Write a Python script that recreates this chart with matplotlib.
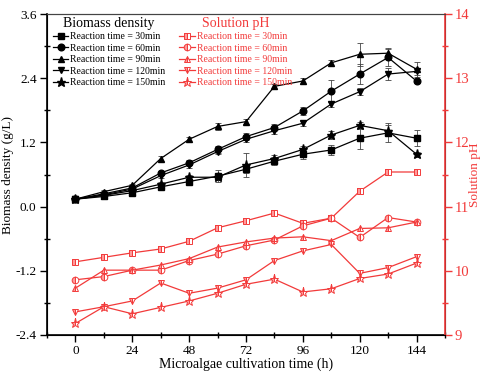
import matplotlib
matplotlib.use("Agg")
import matplotlib.pyplot as plt
from matplotlib.ticker import MultipleLocator

plt.rcParams['font.family'] = ['Liberation Serif', 'DejaVu Serif']

# cultivation time (h)
hours = [0, 12, 24, 36, 48, 60, 72, 84, 96, 108, 120, 132, 144]
labels = ['Reaction time = 30min', 'Reaction time = 60min', 'Reaction time = 90min',
          'Reaction time = 120min', 'Reaction time = 150min']

# biomass density (g/L)
bio_30 = [0.14, 0.19, 0.26, 0.37, 0.47, 0.57, 0.70, 0.85, 0.98, 1.06, 1.28, 1.38, 1.28]
bio_60 = [0.14, 0.24, 0.35, 0.63, 0.82, 1.07, 1.31, 1.48, 1.79, 2.16, 2.48, 2.79, 2.35]
bio_90 = [0.14, 0.28, 0.40, 0.90, 1.26, 1.50, 1.59, 2.25, 2.35, 2.69, 2.85, 2.87, 2.57]
bio_120 = [0.14, 0.22, 0.33, 0.58, 0.78, 1.03, 1.26, 1.42, 1.56, 1.92, 2.15, 2.48, 2.53]
bio_150 = [0.14, 0.21, 0.30, 0.42, 0.55, 0.55, 0.78, 0.90, 1.07, 1.34, 1.52, 1.42, 0.98]

err_30 = [0.03, 0.03, 0.03, 0.03, 0.05, 0.11, 0.08, 0.08, 0.08, 0.10, 0.20, 0.18, 0.15]
err_60 = [0.03, 0.03, 0.03, 0.04, 0.05, 0.06, 0.06, 0.07, 0.08, 0.21, 0.18, 0.16, 0.04]
err_90 = [0.03, 0.03, 0.03, 0.04, 0.05, 0.06, 0.05, 0.05, 0.05, 0.06, 0.22, 0.10, 0.14]
err_120 = [0.03, 0.03, 0.03, 0.04, 0.05, 0.05, 0.05, 0.06, 0.05, 0.06, 0.06, 0.12, 0.06]
err_150 = [0.03, 0.03, 0.03, 0.04, 0.05, 0.05, 0.23, 0.06, 0.06, 0.08, 0.07, 0.10, 0.05]

# solution pH
ph_30 = [10.14, 10.21, 10.28, 10.34, 10.46, 10.67, 10.78, 10.90, 10.74, 10.82, 11.24, 11.54, 11.54]
ph_60 = [9.86, 9.91, 10.01, 10.01, 10.16, 10.26, 10.39, 10.48, 10.70, 10.82, 10.52, 10.83, 10.76]
ph_90 = [9.73, 10.01, 10.01, 10.09, 10.19, 10.37, 10.45, 10.51, 10.53, 10.47, 10.66, 10.67, 10.76]
ph_120 = [9.36, 9.44, 9.53, 9.81, 9.65, 9.73, 9.86, 10.16, 10.31, 10.41, 9.96, 10.05, 10.22]
ph_150 = [9.18, 9.44, 9.33, 9.43, 9.53, 9.65, 9.79, 9.87, 9.67, 9.72, 9.88, 9.95, 10.12]

markers = ['s', 'o', '^', 'v', '*']
red = '#f23a3a'

fig = plt.figure(figsize=(4.8, 3.73), dpi=100)
ax = fig.add_axes([0.098, 0.102, 0.829, 0.860])
ax2 = ax.twinx()

bio_handles = []
for ys, es, m, lab in zip([bio_30, bio_60, bio_90, bio_120, bio_150],
                          [err_30, err_60, err_90, err_120, err_150], markers, labels):
    ms = 6.5 if m == '*' else 4.8
    h = ax.errorbar(hours, ys, yerr=es, color='black', lw=0.9, marker=m, ms=ms,
                    ecolor='#444444', elinewidth=0.6, capsize=2, capthick=0.6,
                    label=lab, zorder=3)
    bio_handles.append(h.lines[0])

ph_handles = []
for ys, m, lab in zip([ph_30, ph_60, ph_90, ph_120, ph_150], markers, labels):
    ms = 6.5 if m == '*' else 4.8
    h, = ax2.plot(hours, ys, color=red, lw=0.9, marker=m, ms=ms, fillstyle='left',
                  markerfacecolor='#ff9a9a', markerfacecoloralt='white',
                  markeredgecolor=red, markeredgewidth=0.7, label=lab)
    ph_handles.append(h)

ax.set_xlim(-12, 156)
ax.set_ylim(-2.4, 3.6)
ax2.set_ylim(9, 14)

ax.xaxis.set_major_locator(MultipleLocator(24))
ax.xaxis.set_minor_locator(MultipleLocator(12))
ax.yaxis.set_minor_locator(MultipleLocator(0.6))
ax.set_yticks([-2.4, -1.2, 0.0, 1.2, 2.4, 3.6])
ax.set_yticklabels(['-2.4', '-1.2', '0.0', '1.2', '2.4', '3.6'])
ax2.yaxis.set_major_locator(MultipleLocator(1))
ax2.yaxis.set_minor_locator(MultipleLocator(0.5))

ax.tick_params(axis='both', which='major', direction='out', length=5, width=1,
               labelsize=9.5, top=False, pad=2.5)
ax.tick_params(axis='both', which='minor', direction='inout', length=4, width=1, top=False)
ax2.tick_params(axis='y', which='major', direction='out', length=5, width=1,
                labelsize=10.5, colors=red, pad=2)
ax2.tick_params(axis='y', which='minor', direction='inout', length=4, width=1, colors=red)

ax.spines['top'].set_color('#444444')
ax2.spines['top'].set_color('#444444')
ax2.spines['right'].set_color(red)
ax2.spines['right'].set_linewidth(1.2)
for s in ['left', 'bottom']:
    ax.spines[s].set_linewidth(1.2)

ax.set_xlabel('Microalgae cultivation time (h)', fontsize=10, labelpad=0)
ax.set_ylabel('Biomass density (g/L)', fontsize=9.5, labelpad=1)
ax2.set_ylabel('Solution pH', fontsize=9.5, color=red, labelpad=0)

leg1 = ax2.legend(handles=bio_handles, labels=labels, loc='upper left',
                  bbox_to_anchor=(0.0, 1.01), frameon=False, fontsize=7,
                  title='Biomass density', title_fontsize=10, handlelength=1.6,
                  handletextpad=0.2, labelspacing=0.25, borderpad=0.1)
ax2.add_artist(leg1)
leg2 = ax2.legend(handles=ph_handles, labels=labels, loc='upper left',
                  bbox_to_anchor=(0.318, 1.01), frameon=False, fontsize=7,
                  title='Solution pH', title_fontsize=10, handlelength=1.6,
                  handletextpad=0.2, labelspacing=0.25, borderpad=0.1)
leg2.get_title().set_color(red)
for t in leg2.get_texts():
    t.set_color(red)

fig.savefig('out.png', dpi=100)
